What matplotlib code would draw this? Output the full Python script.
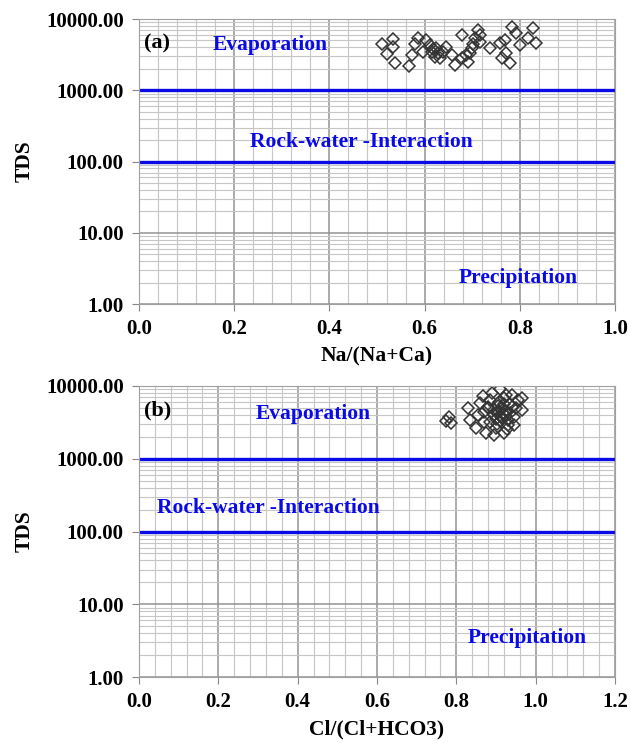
import numpy as np
from matplotlib import pyplot as plt
from matplotlib.ticker import MultipleLocator, FixedLocator, FuncFormatter, NullFormatter

plt.rcParams['font.family'] = ['Liberation Serif', 'DejaVu Serif']
plt.rcParams['font.weight'] = 'bold'

# (a) Na/(Na+Ca) vs TDS
na_ratio = [0.510, 0.534, 0.534, 0.522, 0.538, 0.568, 0.573, 0.587, 0.580, 0.604,
            0.611, 0.597, 0.615, 0.625, 0.622, 0.632, 0.639, 0.646, 0.657, 0.664,
            0.678, 0.678, 0.688, 0.692, 0.699, 0.706, 0.713, 0.716, 0.716, 0.737,
            0.758, 0.762, 0.772, 0.779, 0.783, 0.793, 0.800, 0.818, 0.828, 0.835,
            0.769, 0.618, 0.628, 0.695, 0.702]
tds_a = [4430, 5250, 4100, 3210, 2400, 2220, 3140, 5370, 4500, 5080,
         4330, 3490, 3490, 3890, 2970, 2820, 3490, 4100, 3140, 2270,
         5970, 2820, 3140, 2530, 3890, 5370, 7020, 4820, 5970, 3890,
         4570, 2820, 3310, 2400, 7810, 6310, 4330, 5370, 7410, 4570,
         5080, 3800, 3300, 3300, 4500]

# (b) Cl/(Cl+HCO3) vs TDS
cl_ratio = [0.775, 0.782, 0.786, 0.830, 0.835, 0.855, 0.860, 0.850, 0.876, 0.871,
            0.881, 0.886, 0.896, 0.901, 0.906, 0.911, 0.916, 0.921, 0.926, 0.931,
            0.936, 0.941, 0.946, 0.951, 0.956, 0.966, 0.966, 0.946, 0.921, 0.896,
            0.891, 0.866, 0.926, 0.906, 0.886, 0.912, 0.900, 0.918, 0.905, 0.915,
            0.925, 0.895, 0.935, 0.910, 0.920, 0.880, 0.940, 0.902, 0.930, 0.870,
            0.908, 0.928]
tds_b = [3300, 3800, 3100, 4990, 3430, 4020, 5860, 2630, 2230, 3250,
         4990, 6520, 4020, 2630, 5310, 8980, 3600, 6860, 4480, 2920,
         5590, 7600, 3780, 4990, 6520, 6860, 4750, 2920, 2230, 2120,
         8070, 7260, 7600, 4240, 3250, 3800, 3500, 4200, 4600, 5000,
         3900, 4700, 4300, 3300, 5600, 5200, 5100, 3000, 3400, 4400,
         6100, 2600]

panels = [
    dict(rect=[0.2206, 0.5908, 0.7556, 0.3836], x=na_ratio, y=tds_a, xmax=1.0,
         tag='(a)', xlabel='Na/(Na+Ca)',
         evap=(0.275, 4330), rock=(0.468, 188), prec=(0.796, 2.33)),
    dict(rect=[0.2206, 0.0888, 0.7556, 0.3917], x=cl_ratio, y=tds_b, xmax=1.2,
         tag='(b)', xlabel='Cl/(Cl+HCO3)',
         evap=(0.439, 4120), rock=(0.325, 210), prec=(0.978, 3.43)),
]

fig = plt.figure(figsize=(6.3, 7.43), dpi=100)
blue = '#0a0ae6'
for p in panels:
    ax = fig.add_axes(p['rect'])
    ax.set_yscale('log')
    ax.set_xlim(0, p['xmax'])
    ax.set_ylim(1, 10000)

    ax.xaxis.set_major_locator(MultipleLocator(0.2))
    ax.xaxis.set_minor_locator(MultipleLocator(0.04))
    ax.yaxis.set_major_locator(FixedLocator([1, 10, 100, 1000, 10000]))
    ax.yaxis.set_minor_locator(FixedLocator([m * 10 ** d for d in range(4) for m in range(2, 10)]))
    ax.yaxis.set_major_formatter(FuncFormatter(lambda v, pos: '%.2f' % v))
    ax.yaxis.set_minor_formatter(NullFormatter())
    ax.xaxis.set_major_formatter(FuncFormatter(lambda v, pos: '%.1f' % v))

    ax.grid(which='major', color='#939393', lw=1.1)
    ax.grid(which='minor', color='#c6c6c6', lw=0.8)
    ax.set_axisbelow(True)
    for s in ax.spines.values():
        s.set_color('#a0a0a0')
    ax.tick_params(which='major', length=5, color='#888888', labelsize=15, pad=6)
    ax.tick_params(which='minor', length=0)

    ax.axhline(1000, color=blue, lw=2.4)
    ax.axhline(100, color=blue, lw=2.4)

    ax.plot(p['x'], p['y'], 'D', ms=6.3, mfc='none', mec='#333333', mew=1.1)

    ax.text(0.01, 0.95, p['tag'], transform=ax.transAxes, fontsize=16,
            fontweight='bold', va='top', ha='left')
    ax.text(*p['evap'], 'Evaporation', color=blue, fontsize=15.5, fontweight='bold',
            ha='center', va='center')
    ax.text(*p['rock'], 'Rock-water -Interaction', color=blue, fontsize=15.5,
            fontweight='bold', ha='center', va='center')
    ax.text(*p['prec'], 'Precipitation', color=blue, fontsize=15.5, fontweight='bold',
            ha='center', va='center')

    ax.set_xlabel(p['xlabel'], fontsize=15.5, fontweight='bold', labelpad=5)
    ax.set_ylabel('TDS', fontsize=15.5, fontweight='bold', labelpad=8)

plt.savefig('out.png', dpi=100)
plt.close()
